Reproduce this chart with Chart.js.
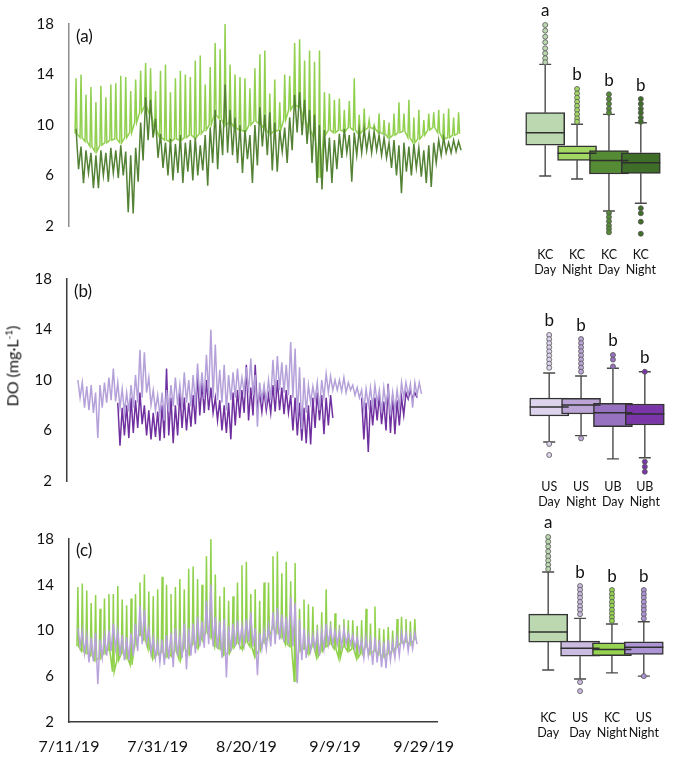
<!DOCTYPE html>
<html>
<head>
<meta charset="utf-8">
<script src="https://cdn.jsdelivr.net/npm/chart.js@4.4.1/dist/chart.umd.min.js"></script>
<style>
  html, body { margin: 0; padding: 0; background: #fff; }
  body { width: 685px; height: 757px; position: relative; overflow: hidden; font-family: Lato, sans-serif; }
  canvas { position: absolute; }
  #yTitle {
    position: absolute; left: 12px; top: 366px;
    transform: translate(-50%, -50%) rotate(-90deg);
    font-size: 16px; color: #111; white-space: nowrap;
  }
  #yTitle sup { font-size: 10px; }
</style>
</head>
<body>
<canvas id="tsA" width="480" height="250" style="left:0;top:0"></canvas>
<canvas id="tsB" width="447" height="250" style="left:0;top:255px"></canvas>
<canvas id="tsC" width="472" height="242" style="left:0;top:515px"></canvas>
<canvas id="boxA" width="200" height="283" style="left:493px;top:0"></canvas>
<canvas id="boxB" width="200" height="260" style="left:497px;top:255px"></canvas>
<canvas id="boxC" width="200" height="231" style="left:496px;top:515px"></canvas>
<div id="yTitle">DO (mg·L<sup>-1</sup>)</div>
<script>
// axis ticks
const yTicks = [2, 6, 10, 14, 18];
const dateTicks = [0, 20, 40, 60, 80]; // days after 7/11/19

// (a) daily peaks / troughs, first value = day 2
const aLightHi = [13.7,14.0,12.4,13.0,11.8,13.1,12.2,13.2,13.3,13.9,
  13.8,12.7,13.6,14.3,14.9,14.5,12.7,14.3,14.8,12.6,
  13.7,14.3,14.0,13.8,15.1,15.5,13.2,14.6,16.5,16.0,
  18.0,14.8,14.0,13.8,13.7,12.9,14.5,15.6,15.9,12.5,
  13.6,11.8,14.0,13.9,16.5,16.8,15.1,15.9,15.0,15.9,
  12.6,12.5,12.0,12.1,11.2,11.9,13.7,10.8,11.3,10.4,
  10.0,10.9,10.4,10.2,10.9,11.8,10.9,12.0,10.6,11.2,
  10.4,10.9,11.0,11.2,10.9,11.3,10.6,11.0];
const aLightLo = [9.3,9.0,8.7,8.3,7.9,8.4,8.6,8.8,8.9,8.6,
  9.0,9.4,10.2,11.0,11.5,10.8,9.6,9.0,8.8,8.7,
  8.9,8.8,9.0,9.2,9.0,9.3,9.6,10.0,10.8,10.5,
  10.0,10.2,9.8,9.6,9.5,10.0,10.3,10.1,9.7,9.3,
  9.5,9.6,10.4,11.2,11.6,11.4,10.4,9.6,9.0,5.8,
  9.2,9.6,9.4,9.6,9.5,9.8,9.6,9.3,9.6,9.8,
  9.7,9.4,9.3,9.0,9.2,9.4,9.5,9.0,8.6,8.9,
  9.2,9.6,9.8,9.4,8.9,9.0,9.2,9.3];
const aDarkHi = [9.7,8.3,8.0,7.8,7.6,8.0,7.8,8.2,8.0,8.4,
  7.9,7.6,8.2,10.2,12.2,12.0,10.5,9.3,8.6,8.9,
  8.5,9.2,8.6,8.8,9.0,8.4,9.2,9.8,11.2,10.4,
  13.2,11.2,10.6,10.0,9.6,9.2,10.0,11.4,10.8,11.0,
  10.2,9.6,9.8,10.6,12.4,12.6,12.0,11.2,10.8,10.0,
  9.6,9.0,8.8,9.3,9.7,9.2,9.4,9.6,9.7,9.4,
  9.5,9.2,9.0,8.6,8.8,8.4,8.6,8.3,8.5,8.2,
  8.0,8.4,8.6,8.8,9.0,8.6,8.8,8.7];
const aDarkLo = [6.5,5.4,6.2,5.0,5.0,6.0,5.5,6.2,5.8,6.0,
  3.1,3.0,5.5,7.2,8.8,9.0,7.4,6.6,6.0,5.6,
  6.2,5.4,6.3,5.6,6.0,6.4,5.2,7.0,6.5,7.6,
  7.8,7.6,7.0,6.2,7.3,5.4,6.8,8.3,7.6,6.4,
  6.3,7.9,7.0,8.0,9.4,9.2,8.5,7.0,5.4,4.9,
  6.3,5.4,6.5,7.4,7.8,5.5,7.6,7.8,8.0,7.8,
  8.0,7.6,7.4,6.6,6.0,4.6,6.3,6.0,6.6,5.9,
  5.4,5.1,7.0,7.6,7.8,7.8,7.9,8.0];

// (b) US from day 2, UB from day 11 (no record days 60-65)
const bUsHi = [10.0,9.8,9.5,9.6,9.0,9.6,9.8,10.2,10.9,9.8,
  9.3,9.0,9.6,10.4,12.4,12.2,10.2,9.2,8.8,9.0,
  9.2,9.6,10.2,9.6,10.6,10.0,10.4,11.3,10.6,12.0,
  14.0,12.8,10.8,11.2,10.4,10.6,10.9,10.2,11.0,11.7,
  10.4,9.8,9.6,10.0,11.6,11.9,11.4,11.2,13.0,12.5,
  11.0,10.2,9.6,9.5,9.8,10.0,10.5,10.3,10.0,10.0,
  10.2,9.8,9.6,9.4,9.2,9.3,9.4,9.6,9.2,9.4,
  9.3,9.0,9.2,9.8,9.8,9.7,9.8,9.8];
const bUsLo = [8.6,7.8,7.6,7.4,5.4,7.8,8.2,8.4,8.3,7.8,
  7.4,7.5,7.8,8.2,8.6,9.0,8.0,7.6,7.2,6.8,
  7.5,7.9,8.0,7.8,8.2,7.9,8.0,8.6,8.5,8.8,
  8.6,8.4,8.2,7.6,8.4,8.6,8.8,9.0,9.0,8.8,
  6.3,8.4,8.2,8.4,8.8,9.2,9.0,8.8,8.6,7.0,
  6.1,7.4,8.2,8.4,7.6,8.6,9.0,9.2,9.2,9.1,
  9.0,9.2,8.8,8.6,7.6,8.0,7.8,8.2,7.4,8.0,
  7.2,7.6,7.8,8.6,8.8,7.8,8.8,8.9];
const bUbHi = [8.2,7.8,8.0,8.6,8.4,9.0,8.0,7.6,7.4,7.5,
  8.0,10.9,8.6,8.0,9.0,8.6,8.2,8.8,10.5,9.8,
  10.0,9.4,8.6,8.4,8.0,8.2,9.0,9.2,9.2,11.2,
  9.4,11.2,9.0,9.2,8.8,9.6,10.0,9.4,9.2,8.8,
  8.6,8.2,7.8,8.0,8.6,9.0,8.8,8.6,8.8,null,
  null,null,null,null,null,8.6,8.2,8.4,8.6,8.8,
  8.3,9.7,8.8,8.4,8.6,9.0,9.2,9.0];
const bUbLo = [4.8,5.6,5.4,5.8,6.2,6.5,5.6,5.3,5.5,5.2,
  5.4,5.6,5.0,5.6,6.2,6.0,6.3,6.5,7.2,7.4,
  7.6,7.4,6.8,6.0,5.8,5.3,6.4,7.0,7.4,6.8,
  7.2,7.6,7.5,7.6,7.4,7.5,7.6,7.3,7.4,6.0,
  5.6,5.2,5.0,4.9,6.2,6.8,5.7,6.4,7.0,null,
  null,null,null,null,null,5.3,4.3,6.4,6.8,6.5,
  6.0,5.8,5.7,6.4,7.2,8.5,8.5,8.6];

// (c) KC and US, both from day 2
const cKcHi = [13.8,14.1,13.5,12.4,13.1,11.9,12.8,13.2,13.2,13.9,
  12.7,12.2,12.8,13.2,14.2,14.9,13.4,13.0,13.6,14.7,
  14.0,13.2,13.8,14.5,13.6,15.4,15.6,14.5,14.0,16.5,
  18.0,14.9,13.0,13.8,12.6,13.0,14.2,15.7,16.0,13.2,
  13.6,12.6,14.2,14.2,16.5,16.9,15.0,16.0,14.3,15.9,
  11.9,12.7,12.3,12.1,10.5,11.6,13.6,10.8,11.5,10.5,
  11.0,10.9,10.9,10.4,10.9,11.9,10.6,12.1,10.2,10.1,
  10.3,10.0,11.0,11.2,11.0,10.8,11.0];
const cKcLo = [8.6,8.2,8.0,7.8,7.4,7.6,8.0,8.3,6.4,7.4,
  8.0,7.6,7.0,8.8,9.6,9.2,8.4,7.6,7.9,8.1,
  7.7,7.8,8.2,7.5,8.4,8.0,8.8,8.5,9.2,9.8,
  9.4,8.6,8.4,7.9,8.0,8.5,8.9,8.4,9.0,8.6,
  7.8,8.3,9.0,9.4,10.2,9.8,9.4,8.8,8.6,5.5,
  8.2,8.4,8.0,8.6,7.7,8.2,8.6,8.8,8.4,7.6,
  8.6,8.2,8.4,7.6,8.0,8.6,8.0,8.2,7.9,7.7,
  8.0,8.2,8.6,8.9,9.0,8.8,9.2];
const cUsHi = [10.2,10.0,9.6,9.4,9.8,9.2,9.6,10.0,10.6,10.0,
  9.6,9.4,9.8,10.6,12.2,11.8,10.2,9.4,9.0,9.2,
  9.6,9.8,10.2,9.6,10.6,10.2,10.6,11.2,10.8,12.6,
  14.0,11.2,10.8,11.0,10.4,10.6,10.9,10.4,11.0,11.6,
  10.2,9.8,10.0,10.4,11.6,12.0,11.4,11.2,12.9,12.4,
  11.0,10.2,9.6,9.6,9.8,10.0,10.6,10.2,10.0,10.0,
  10.2,9.8,9.6,9.4,9.2,9.4,9.2,9.4,9.2,9.0,
  9.2,9.0,9.4,9.8,9.8,9.6,9.8];
const cUsLo = [8.6,8.0,7.2,7.3,5.3,7.6,7.8,8.2,8.4,7.8,
  7.4,7.4,7.8,8.2,8.8,9.0,8.0,7.6,7.2,7.0,
  7.5,6.8,7.8,7.6,6.6,7.8,8.0,8.6,8.5,8.8,
  8.6,8.4,7.6,5.9,8.2,8.6,8.8,8.8,9.0,8.6,
  6.1,8.4,8.4,8.6,8.8,9.2,9.0,8.8,8.6,5.4,
  7.4,7.6,8.2,8.4,7.8,8.4,8.8,8.8,8.8,8.6,
  8.8,8.8,8.4,8.2,7.6,7.8,7.0,7.2,6.8,6.7,
  7.4,7.6,7.8,8.6,8.2,8.4,8.8];

// box plots
const boxLabelsA = [['KC', 'Day'], ['KC', 'Night'], ['KC', 'Day'], ['KC', 'Night']];
const boxLowA = [6.13, 5.91, 3.59, 4.15];
const boxQ1A = [8.35, 7.26, 6.27, 6.32];
const boxMedA = [9.26, 7.77, 7.24, 7.09];
const boxQ3A = [10.71, 8.32, 7.96, 7.81];
const boxHighA = [14.21, 9.87, 10.59, 9.98];
const boxOutA = [
  [17.06, 16.65, 16.21, 15.81, 15.37, 15.01, 14.65, 14.36],
  [12.43, 12.1, 11.8, 11.5, 11.2, 10.9, 10.6, 10.3, 10.05],
  [12.04, 11.7, 11.35, 11.0, 10.7, 3.45, 3.15, 2.85, 2.55, 2.3, 2.05],
  [11.7, 11.35, 11.0, 10.7, 10.35, 10.05, 3.79, 3.43, 2.82, 1.95],
];
const boxLettersA = ['a', 'b', 'b', 'b'];

const boxLabelsB = [['US', 'Day'], ['US', 'Night'], ['UB', 'Day'], ['UB', 'Night']];
const boxLowB = [5.30, 5.77, 4.06, 4.15];
const boxQ1B = [7.21, 7.36, 6.43, 6.55];
const boxMedB = [7.87, 8.02, 7.45, 7.36];
const boxQ3B = [8.53, 8.51, 8.14, 8.09];
const boxHighB = [10.37, 10.15, 10.71, 10.46];
const boxOutB = [
  [13.16, 12.85, 12.55, 12.25, 11.95, 11.65, 11.35, 11.05, 10.75, 5.16, 4.35],
  [12.86, 12.56, 12.26, 11.96, 11.66, 11.36, 11.06, 10.76, 10.46, 5.57],
  [11.69, 11.35, 10.85],
  [10.46, 3.86, 3.49, 3.12],
];
const boxLettersB = ['b', 'b', 'b', 'b'];

const boxLabelsC = [['KC', 'Day'], ['US', 'Day'], ['KC', 'Night'], ['US', 'Night']];
const boxLowC = [6.27, 5.53, 6.04, 5.77];
const boxQ1C = [8.56, 7.41, 7.44, 7.55];
const boxMedC = [9.38, 8.05, 7.96, 8.13];
const boxQ3C = [10.86, 8.64, 8.51, 8.59];
const boxHighC = [14.31, 10.51, 10.04, 10.23];
const boxOutC = [
  [17.18, 16.8, 16.4, 16.0, 15.6, 15.25, 14.9, 14.55],
  [13.16, 12.85, 12.5, 12.2, 11.85, 11.5, 11.2, 10.85, 5.28, 4.54],
  [12.83, 12.5, 12.2, 11.85, 11.55, 11.2, 10.9, 10.6, 10.3],
  [12.83, 12.5, 12.2, 11.85, 11.5, 11.2, 10.85, 10.5, 5.77],
];
const boxLettersC = ['a', 'b', 'b', 'b'];

const boxColorsA = ['#bcd8b0', '#a3d764', '#558b34', '#3e6e27'];
const boxColorsB = ['#ded3ec', '#baa5d6', '#9672c0', '#7a36a8'];
const boxColorsC = ['#bcd8b0', '#cbbbe0', '#96d351', '#ad94d4'];

const FONT = 'Lato';

function dateLabel(v) {
  const d = new Date(2019, 6, 11 + v);
  return (d.getMonth() + 1) + '/' + d.getDate() + '/' + String(d.getFullYear()).slice(2);
}

// daily peak at the day, trough half a day later
function zigzag(first, hi, lo) {
  const pts = [];
  hi.forEach((h, i) => {
    pts.push({ x: first + i, y: h });
    pts.push({ x: first + i + 0.5, y: lo[i] });
  });
  return pts;
}

// narrow afternoon spike rising from the daily baseline
function spikes(first, hi, lo) {
  const pts = [];
  hi.forEach((h, i) => {
    const d = first + i;
    pts.push({ x: d - 0.2, y: lo[i] });
    pts.push({ x: d, y: h });
    pts.push({ x: d + 0.2, y: lo[i] });
  });
  return pts;
}

const panelLabel = {
  id: 'panelLabel',
  afterDraw(chart, args, opts) {
    const { ctx, chartArea } = chart;
    ctx.save();
    ctx.font = '17px ' + FONT;
    ctx.fillStyle = '#111';
    ctx.textBaseline = 'middle';
    ctx.fillText(opts.text, chartArea.left + 7, chartArea.top + opts.dy);
    ctx.restore();
  },
};

function yScale(width, color) {
  return {
    min: 2,
    max: 18,
    afterBuildTicks: (s) => { s.ticks = yTicks.map((v) => ({ value: v })); },
    afterFit: (s) => { s.width = width; },
    grid: { display: false, drawTicks: false },
    border: { display: true, color: color, width: 1.5 },
    ticks: { color: '#111', font: { family: FONT, size: 15 }, padding: 15 },
  };
}

function drawSeries(id, cfg) {
  const x = cfg.showDates
    ? {
        type: 'linear',
        min: cfg.xMin,
        max: cfg.xMax,
        afterBuildTicks: (s) => { s.ticks = dateTicks.map((v) => ({ value: v })); },
        afterFit: (s) => { s.height = 30; },
        grid: { display: false, drawTicks: false },
        border: { display: true, color: cfg.axisColor, width: 1.5 },
        ticks: {
          color: '#111',
          font: { family: FONT, size: 16 },
          padding: 15,
          maxRotation: 0,
          autoSkip: false,
          callback: (v) => dateLabel(v),
        },
      }
    : { type: 'linear', min: cfg.xMin, max: cfg.xMax, display: false };

  new Chart(document.getElementById(id), {
    type: 'line',
    data: {
      datasets: cfg.series.map((s) => ({
        data: s.points,
        borderColor: s.color,
        borderWidth: 1.5,
        pointRadius: 0,
        tension: 0,
        spanGaps: false,
      })),
    },
    options: {
      responsive: false,
      animation: false,
      events: [],
      layout: { padding: cfg.padding },
      plugins: {
        legend: { display: false },
        tooltip: { enabled: false },
        panelLabel: { text: cfg.label, dy: cfg.labelDy },
      },
      scales: { x: x, y: yScale(cfg.yWidth, cfg.axisColor) },
    },
    plugins: [panelLabel],
  });
}

// whiskers under the boxes, medians and letters on top
const boxExtras = {
  id: 'boxExtras',
  beforeDatasetsDraw(chart, args, o) {
    const { ctx } = chart;
    const xs = chart.scales.x;
    const ys = chart.scales.y;
    ctx.save();
    ctx.strokeStyle = '#4a4a4a';
    ctx.lineWidth = 1.4;
    ctx.beginPath();
    o.q1.forEach((q1, i) => {
      const px = xs.getPixelForValue(i);
      const hi = ys.getPixelForValue(o.high[i]);
      const lo = ys.getPixelForValue(o.low[i]);
      ctx.moveTo(px, hi);
      ctx.lineTo(px, ys.getPixelForValue(o.q3[i]));
      ctx.moveTo(px, ys.getPixelForValue(q1));
      ctx.lineTo(px, lo);
      ctx.moveTo(px - 6, hi);
      ctx.lineTo(px + 6, hi);
      ctx.moveTo(px - 6, lo);
      ctx.lineTo(px + 6, lo);
    });
    ctx.stroke();
    ctx.restore();
  },
  afterDatasetsDraw(chart, args, o) {
    const { ctx } = chart;
    const xs = chart.scales.x;
    const ys = chart.scales.y;
    ctx.save();
    ctx.strokeStyle = '#2f2f2f';
    ctx.lineWidth = 1.5;
    ctx.beginPath();
    o.med.forEach((m, i) => {
      const px = xs.getPixelForValue(i);
      const py = ys.getPixelForValue(m);
      ctx.moveTo(px - o.half, py);
      ctx.lineTo(px + o.half, py);
    });
    ctx.stroke();
    ctx.font = '17px ' + FONT;
    ctx.fillStyle = '#111';
    ctx.textAlign = 'center';
    ctx.textBaseline = 'middle';
    o.letters.forEach((t, i) => {
      const top = Math.max(o.high[i], ...o.out[i]);
      ctx.fillText(t, xs.getPixelForValue(i), ys.getPixelForValue(top) - 14);
    });
    ctx.restore();
  },
};

function drawBoxes(id, b) {
  const datasets = [
    {
      type: 'bar',
      data: b.q1.map((v, i) => ({ x: i, y: [v, b.q3[i]] })),
      backgroundColor: b.colors,
      borderColor: '#333',
      borderWidth: 1.5,
      borderSkipped: false,
      barThickness: 39,
      order: 2,
    },
  ];
  b.out.forEach((vals, i) => {
    datasets.push({
      type: 'scatter',
      data: vals.map((v) => ({ x: i, y: v })),
      pointRadius: 2.5,
      pointBackgroundColor: b.colors[i],
      pointBorderColor: '#555',
      pointBorderWidth: 0.8,
      clip: false,
      order: 1,
    });
  });

  new Chart(document.getElementById(id), {
    type: 'bar',
    data: { datasets: datasets },
    options: {
      responsive: false,
      animation: false,
      events: [],
      layout: { padding: { left: 15, right: 15, top: b.top, bottom: 0 } },
      plugins: {
        legend: { display: false },
        tooltip: { enabled: false },
        boxExtras: {
          q1: b.q1, q3: b.q3, med: b.med, low: b.low, high: b.high,
          out: b.out, letters: b.letters, half: 19.5,
        },
      },
      scales: {
        x: {
          type: 'linear',
          min: -0.5,
          max: 3.5,
          afterBuildTicks: (s) => { s.ticks = [0, 1, 2, 3].map((v) => ({ value: v })); },
          afterFit: (s) => { s.height = b.axisHeight; },
          grid: { display: false, drawTicks: false },
          border: { display: false },
          ticks: {
            color: '#111',
            font: { family: FONT, size: 12.5 },
            padding: b.labelPad,
            maxRotation: 0,
            autoSkip: false,
            callback: (v) => b.labels[v],
          },
        },
        // same px per unit as the series panel beside it; bottom trimmed to make room for labels
        y: { display: false, min: b.yMin, max: 18 },
      },
    },
    plugins: [boxExtras],
  });
}

drawSeries('tsA', {
  series: [
    { points: zigzag(2, aDarkHi, aDarkLo), color: '#548235' },
    { points: spikes(2, aLightHi, aLightLo), color: '#92d050' },
  ],
  xMin: 0.58, xMax: 81.3, yWidth: 69, axisColor: '#8c8c8c',
  padding: { left: 0, right: 10, top: 12, bottom: 17 },
  label: '(a)', labelDy: 13, showDates: false,
});

drawSeries('tsB', {
  series: [
    { points: zigzag(2, bUsHi, bUsLo), color: '#b5a1d9' },
    { points: zigzag(11, bUbHi, bUbLo), color: '#7030a0' },
  ],
  xMin: -0.45, xMax: 83, yWidth: 67, axisColor: '#3c3c3c',
  padding: { left: 0, right: 10, top: 14, bottom: 18 },
  label: '(b)', labelDy: 13, showDates: false,
});

drawSeries('tsC', {
  series: [
    { points: zigzag(2, cUsHi, cUsLo), color: '#b9a3db' },
    { points: spikes(2, cKcHi, cKcLo), color: '#8fd14a' },
  ],
  xMin: 0, xMax: 83, yWidth: 69, axisColor: '#3c3c3c',
  padding: { left: 0, right: 35, top: 12, bottom: 5 },
  label: '(c)', labelDy: 12, showDates: true,
});

drawBoxes('boxA', {
  labels: boxLabelsA, low: boxLowA, q1: boxQ1A, med: boxMedA, q3: boxQ3A, high: boxHighA,
  out: boxOutA, letters: boxLettersA, colors: boxColorsA,
  top: 12, axisHeight: 50, labelPad: 14, yMin: 2,
});

drawBoxes('boxB', {
  labels: boxLabelsB, low: boxLowB, q1: boxQ1B, med: boxMedB, q3: boxQ3B, high: boxHighB,
  out: boxOutB, letters: boxLettersB, colors: boxColorsB,
  top: 14, axisHeight: 40, labelPad: 4, yMin: 2.88,
});

drawBoxes('boxC', {
  labels: boxLabelsC, low: boxLowC, q1: boxQ1C, med: boxMedC, q3: boxQ3C, high: boxHighC,
  out: boxOutC, letters: boxLettersC, colors: boxColorsC,
  top: 12, axisHeight: 40, labelPad: 4, yMin: 3.32,
});
</script>
</body>
</html>
